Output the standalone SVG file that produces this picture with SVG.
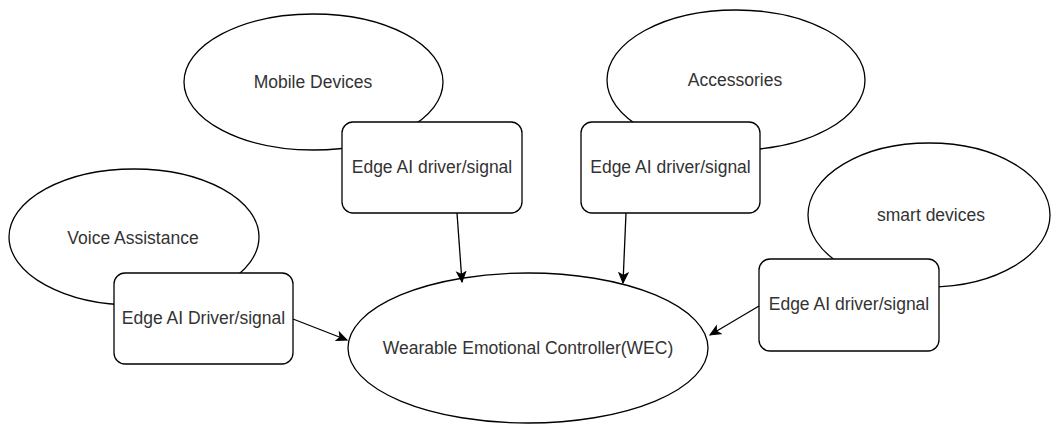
<svg xmlns="http://www.w3.org/2000/svg" width="1051" height="424" viewBox="0 0 1051 424">
<style>
.shape{fill:#fff;stroke:#000;stroke-width:1.3}
.lbl{font-family:"Liberation Sans",Arial,sans-serif;font-size:17.5px;fill:#333;text-anchor:middle;dominant-baseline:central}
.conn{stroke:#000;stroke-width:1.3;fill:none}
</style>
<defs>
<marker id="arr" markerUnits="userSpaceOnUse" markerWidth="12" markerHeight="12" viewBox="0 0 12 12" refX="11" refY="6" orient="auto">
<path d="M1,1.5 L11,6 L1,10.5 L3.5,6 Z" fill="#000" stroke="#000" stroke-width="1"/>
</marker>
</defs>
<rect width="1051" height="424" fill="#fff"/>
<g id="mobile-devices"><ellipse class="shape" cx="313.5" cy="82" rx="129.5" ry="68"/><text class="lbl" x="313" y="82">Mobile Devices</text></g>
<g id="accessories"><ellipse class="shape" cx="736" cy="80" rx="129" ry="70"/><text class="lbl" x="735" y="80">Accessories</text></g>
<g id="smart-devices"><ellipse class="shape" cx="929" cy="215" rx="121" ry="72"/><text class="lbl" x="931" y="215">smart devices</text></g>
<g id="voice-assistance"><ellipse class="shape" cx="134" cy="237" rx="125" ry="68"/><text class="lbl" x="133" y="238">Voice Assistance</text></g>
<g id="wec"><ellipse class="shape" cx="528" cy="348" rx="180" ry="75"/><text class="lbl" x="528" y="348">Wearable Emotional Controller(WEC)</text></g>
<g id="edge-mobile"><rect class="shape" x="342" y="122" width="180" height="91" rx="11"/><text class="lbl" x="432" y="167">Edge AI driver/signal</text></g>
<g id="edge-accessories"><rect class="shape" x="581" y="122" width="179" height="91" rx="11"/><text class="lbl" x="670.5" y="167">Edge AI driver/signal</text></g>
<g id="edge-smart"><rect class="shape" x="759" y="259" width="180" height="92" rx="11"/><text class="lbl" x="849" y="304">Edge AI driver/signal</text></g>
<g id="edge-voice"><rect class="shape" x="114" y="273" width="179" height="91" rx="11"/><text class="lbl" x="203.5" y="318">Edge AI Driver/signal</text></g>
<g id="connectors">
<line class="conn" x1="457" y1="213" x2="462" y2="282" marker-end="url(#arr)"/>
<line class="conn" x1="626" y1="213" x2="623" y2="283" marker-end="url(#arr)"/>
<line class="conn" x1="759" y1="306" x2="710" y2="335" marker-end="url(#arr)"/>
<line class="conn" x1="293" y1="319" x2="347" y2="340" marker-end="url(#arr)"/>
</g>
</svg>
